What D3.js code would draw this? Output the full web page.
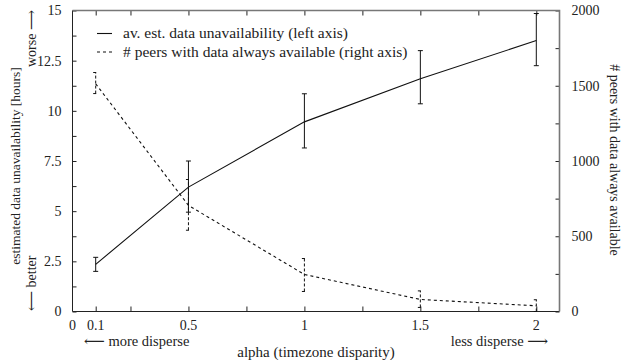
<html lang="en">
  <head>
    <meta charset="UTF-8" />
    <title>data unavailability vs alpha</title>
    <script src="https://d3js.org/d3.v7.min.js"></script>
  </head>
  <style>
    body {
      margin: 0px;
      overflow: hidden;
      background: white;
    }
  </style>
  <body>
    <svg width="626" height="360"></svg>
    <script>
      // alpha values
      var alphas = [0.1, 0.5, 1, 1.5, 2];
      // av. est. data unavailability (hours), left axis
      var unavail = [2.35, 6.2, 9.45, 11.6, 13.5];
      var unavailLo = [2.0, 4.95, 8.15, 10.35, 12.25];
      var unavailHi = [2.7, 7.5, 10.85, 13.0, 14.85];
      // # peers with data always available, right axis
      var peers = [1513, 705, 246, 80, 38];
      var peersLo = [1448, 540, 133, 27, 0];
      var peersHi = [1588, 877, 352, 137, 78];

      var xTicks = [0.1, 0.25, 0.5, 0.75, 1, 1.25, 1.5, 1.75, 2];
      var xLabels = [0, 0.1, 0.5, 1, 1.5, 2];
      var leftTicks = d3.range(0, 15.01, 1.25);
      var rightTicks = d3.range(0, 2001, 250);

      var FONT = "'Liberation Serif', 'DejaVu Serif', serif";
      var svg = d3.select("svg").attr("font-family", FONT).attr("font-size", 14);
      var margin = { left: 72.5, top: 10.5, right: 559.5, bottom: 311.5 };

      var x = d3.scaleLinear().domain([0, 2.1]).range([margin.left, margin.right]);
      var yL = d3.scaleLinear().domain([0, 15]).range([margin.bottom, margin.top]);
      var yR = d3.scaleLinear().domain([0, 2000]).range([margin.bottom, margin.top]);

      // ticks (inward, gnuplot style)
      svg
        .append("g")
        .attr("transform", `translate(0, ${margin.bottom})`)
        .call(d3.axisBottom(x).tickValues(xTicks).tickSizeInner(-5).tickSizeOuter(0).tickFormat(""));
      svg
        .append("g")
        .attr("transform", `translate(0, ${margin.top})`)
        .call(d3.axisTop(x).tickValues(xTicks).tickSizeInner(-5).tickSizeOuter(0).tickFormat(""));
      svg
        .append("g")
        .attr("transform", `translate(${margin.left}, 0)`)
        .call(
          d3.axisLeft(yL).tickValues(leftTicks).tickSizeInner(-4).tickSizeOuter(0).tickPadding(11)
            .tickFormat(function (d) { return (d * 100) % 250 === 0 ? d3.format("~g")(d) : ""; })
        );
      svg
        .append("g")
        .attr("transform", `translate(${margin.right}, 0)`)
        .call(
          d3.axisRight(yR).tickValues(rightTicks).tickSizeInner(-4).tickSizeOuter(0).tickPadding(12)
            .tickFormat(function (d) { return d % 500 === 0 ? d : ""; })
        );
      svg.selectAll(".domain").remove();
      svg.selectAll("g").attr("font-family", FONT).attr("font-size", 14);
      svg.selectAll(".tick line").attr("stroke", "#222");
      svg.selectAll(".tick text").attr("fill", "#222");

      // x tick labels
      svg
        .append("g")
        .selectAll("text")
        .data(xLabels)
        .enter()
        .append("text")
        .attr("x", function (d) { return x(d); })
        .attr("y", 330)
        .attr("text-anchor", "middle")
        .attr("font-size", 14)
        .attr("fill", "#222")
        .text(function (d) { return d; });

      // frame: left and bottom dark, top and right lighter
      var frame = svg.append("g").attr("fill", "none");
      frame.append("path")
        .attr("d", `M${margin.left},${margin.top}V${margin.bottom}H${margin.right}`)
        .attr("stroke", "#222");
      frame.append("path")
        .attr("d", `M${margin.left},${margin.top}H${margin.right}V${margin.bottom}`)
        .attr("stroke", "#777")
        .attr("stroke-width", 1.6);

      // error bars
      function errorBars(lo, hi, yScale, dash) {
        var g = svg.append("g").attr("stroke", "#111").attr("fill", "none").attr("stroke-dasharray", dash);
        alphas.forEach(function (a, i) {
          var cx = x(a);
          g.append("line").attr("x1", cx).attr("x2", cx).attr("y1", yScale(lo[i])).attr("y2", yScale(hi[i]));
          g.append("line").attr("x1", cx - 2.5).attr("x2", cx + 2.5).attr("y1", yScale(lo[i])).attr("y2", yScale(lo[i])).attr("stroke-dasharray", null);
          g.append("line").attr("x1", cx - 2.5).attr("x2", cx + 2.5).attr("y1", yScale(hi[i])).attr("y2", yScale(hi[i])).attr("stroke-dasharray", null);
        });
      }
      errorBars(unavailLo, unavailHi, yL, null);
      errorBars(peersLo, peersHi, yR, "3,2");

      var lineL = d3.line().x(function (d, i) { return x(alphas[i]); }).y(function (d) { return yL(d); });
      var lineR = d3.line().x(function (d, i) { return x(alphas[i]); }).y(function (d) { return yR(d); });

      svg.append("path").datum(unavail).attr("d", lineL).attr("fill", "none").attr("stroke", "#111").attr("stroke-width", 1.1);
      svg.append("path").datum(peers).attr("d", lineR).attr("fill", "none").attr("stroke", "#111").attr("stroke-width", 1.1).attr("stroke-dasharray", "3,3");

      // legend
      var legend = [
        { label: "av. est. data unavailability (left axis)", dash: null },
        { label: "# peers with data always available (right axis)", dash: "3,3" }
      ];
      legend.forEach(function (d, i) {
        var ly = 33.5 + i * 18.5;
        svg.append("line").attr("x1", 97).attr("x2", 112).attr("y1", ly).attr("y2", ly)
          .attr("stroke", "#111").attr("stroke-width", 1.1).attr("stroke-dasharray", d.dash);
        svg.append("text").attr("x", 123).attr("y", ly + 4.5).attr("font-size", 15.5).attr("fill", "#222").text(d.label);
      });

      // axis titles
      function label(txt, size) {
        return svg.append("text").attr("font-size", size).attr("fill", "#222").text(txt);
      }
      label("alpha (timezone disparity)", 15).attr("x", 316).attr("y", 356.5).attr("text-anchor", "middle");
      label("\u27f5 more disperse", 14.5).attr("x", 84).attr("y", 345.5);
      label("less disperse \u27f6", 14.5).attr("x", 548).attr("y", 345.5).attr("text-anchor", "end");

      label("estimated data unavailability [hours]", 13.5)
        .attr("transform", "translate(20, 166) rotate(-90)").attr("text-anchor", "middle");
      label("worse \u27f6", 14).attr("transform", "translate(36, 10) rotate(-90)").attr("text-anchor", "end");
      label("\u27f5 better", 14).attr("transform", "translate(36, 311) rotate(-90)").attr("text-anchor", "start");
      label("# peers with data always available", 14)
        .attr("transform", "translate(610, 160) rotate(90)").attr("text-anchor", "middle");
    </script>
  </body>
</html>
